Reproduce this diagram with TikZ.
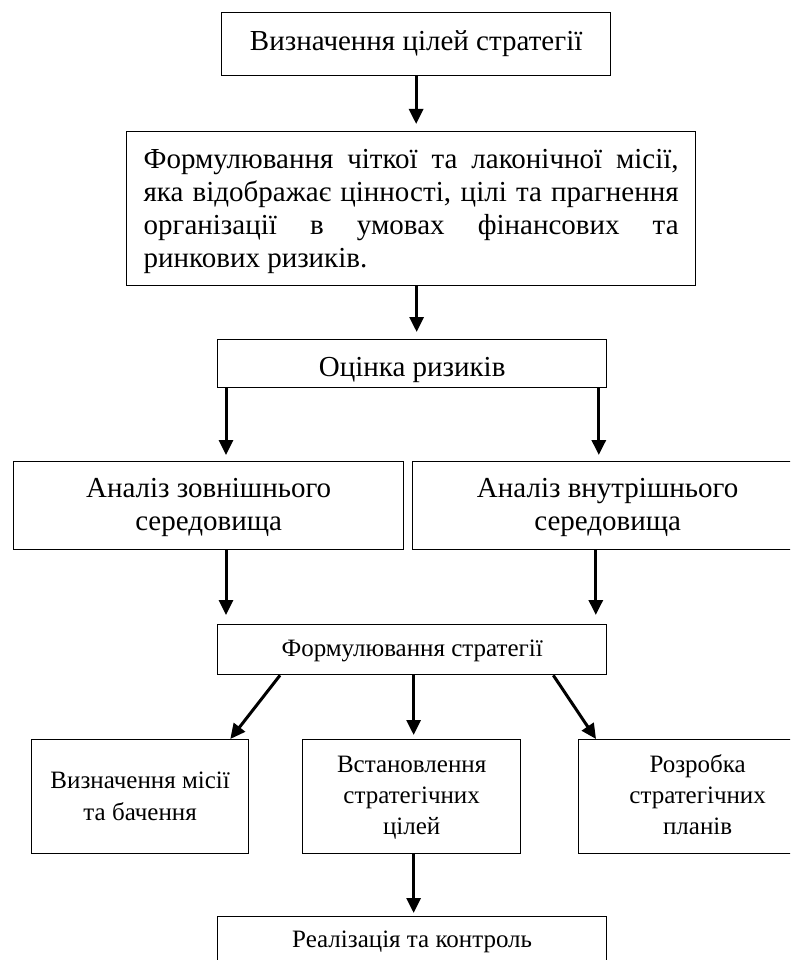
\documentclass[tikz,border=0pt]{standalone}
\usepackage{fontspec}
\setmainfont{Liberation Serif}
\usetikzlibrary{arrows.meta}
\newcommand\FontA{\fontsize{29}{33}\selectfont}
\newcommand\FontB{\fontsize{25}{32}\selectfont}
\newcommand\FontC{\fontsize{25}{31}\selectfont}
\begin{document}
\begin{tikzpicture}[x=1pt,y=-1pt,
  box/.style={draw, line width=1.3pt, rectangle, inner xsep=0pt, inner ysep=0pt, anchor=north west},
  arr/.style={line width=3pt, -{Triangle[width=14pt,length=15pt]}},
]
\useasboundingbox (0,0) rectangle (790,960);
\fill[white] (0,0) rectangle (790,960);
\begin{scope}
\clip (0,0) rectangle (790,960);
\node[box, minimum width=389pt, text height=38pt, text depth=25pt] (b1) at (221,12)
  {\FontA Визначення цілей стратегії};
\node[box, minimum width=569pt, text height=37pt, text depth=117pt] (b2) at (126,131)
  {\FontA\begin{tabular}[t]{@{}l@{}}\makebox[535pt][s]{Формулювання чіткої та лаконічної місії,}\\
   \makebox[535pt][s]{яка відображає цінності, цілі та прагнення}\\
   \makebox[535pt][s]{організації в умовах фінансових та}\\
   ринкових ризиків.\end{tabular}};
\node[box, minimum width=389pt, text height=37pt, text depth=11pt] (b3) at (217,339)
  {\FontA Оцінка ризиків};
\node[box, minimum width=390pt, text height=36pt, text depth=52pt] (b4) at (13,461)
  {\FontA\begin{tabular}[t]{@{}c@{}}Аналіз зовнішнього\\середовища\end{tabular}};
\node[box, minimum width=390pt, text height=36pt, text depth=52pt] (b5) at (412,461)
  {\FontA\begin{tabular}[t]{@{}c@{}}Аналіз внутрішнього\\середовища\end{tabular}};
\node[box, minimum width=389pt, text height=32pt, text depth=18pt] (b6) at (217,624)
  {\FontB Формулювання стратегії};
\node[box, minimum width=217pt, text height=49pt, text depth=65pt] (b7) at (31,739)
  {\FontB\begin{tabular}[t]{@{}c@{}}Визначення місії\\та бачення\end{tabular}};
\node[box, minimum width=218pt, text height=33pt, text depth=81pt] (b8) at (302,739)
  {\FontC\begin{tabular}[t]{@{}c@{}}Встановлення\\стратегічних\\цілей\end{tabular}};
\node[box, minimum width=238pt, text height=33pt, text depth=81pt] (b9) at (578,739)
  {\FontC\begin{tabular}[t]{@{}c@{}}Розробка\\стратегічних\\планів\end{tabular}};
\node[box, minimum width=389pt, text height=31pt, text depth=25pt] (b10) at (217,916)
  {\FontB Реалізація та контроль};
\end{scope}

\coordinate (s1) at (b1.south);
\draw[arr, shorten >=7pt] (s1) -- (s1 |- b2.north);
\coordinate (s2) at ([xshift=5.5pt]b2.south);
\draw[arr, shorten >=7pt] (s2) -- (s2 |- b3.north);
\coordinate (s3l) at ([xshift=9pt]b3.south west);
\draw[arr, shorten >=6pt] (s3l) -- (s3l |- b4.north);
\coordinate (s3r) at ([xshift=-8.5pt]b3.south east);
\draw[arr, shorten >=6pt] (s3r) -- (s3r |- b5.north);
\coordinate (t6l) at ([xshift=9pt]b6.north west);
\draw[arr, shorten >=9pt] (t6l |- b4.south) -- (t6l);
\coordinate (t6r) at ([xshift=-11.5pt]b6.north east);
\draw[arr, shorten >=9pt] (t6r |- b5.south) -- (t6r);
\coordinate (s6) at ([xshift=1.5pt]b6.south);
\draw[arr, shorten >=4pt] (s6) -- (s6 |- b8.north);
\draw[arr] ([xshift=63pt]b6.south west) -- ([xshift=-19pt]b7.north east);
\draw[arr] ([xshift=-54pt]b6.south east) -- ([xshift=18pt]b9.north west);
\coordinate (s8) at ([xshift=2pt]b8.south);
\draw[arr, shorten >=3pt] (s8) -- (s8 |- b10.north);
\end{tikzpicture}
\end{document}
